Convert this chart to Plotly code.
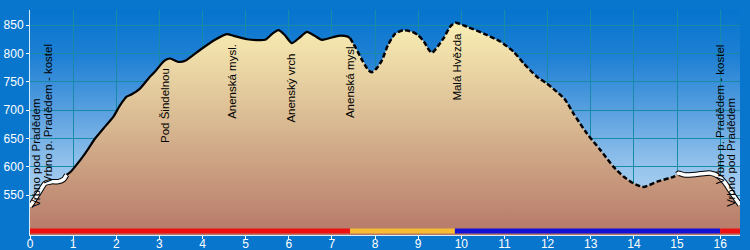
import base64
import struct
import zlib

import numpy as np
import plotly.graph_objects as go

# ---------------- data ----------------
dist_km = [0.00, 0.10, 0.22, 0.35, 0.50, 0.66, 0.78, 0.85, 0.95, 1.04, 1.28, 1.51,
           1.74, 1.93, 2.09, 2.24, 2.36, 2.55, 2.78, 2.90, 3.05, 3.13, 3.25, 3.44,
           3.60, 3.94, 4.29, 4.56, 4.72, 5.03, 5.45, 5.62, 5.76, 5.90, 6.07, 6.25,
           6.42, 6.60, 6.77, 7.15, 7.35, 7.42, 7.55, 7.70, 7.85, 7.93, 8.05, 8.16,
           8.30, 8.47, 8.66, 8.86, 9.00, 9.13, 9.25, 9.32, 9.45, 9.59, 9.75, 9.86,
           10.13, 10.52, 10.90, 11.21, 11.45, 11.75, 11.98, 12.22, 12.41, 12.60,
           12.91, 13.22, 13.53, 13.76, 13.99, 14.19, 14.26, 14.54, 14.93, 15.00,
           15.04, 15.16, 15.47, 15.78, 15.97, 16.10, 16.20, 16.35, 16.46]
elev_m = [530, 542, 556, 571, 574, 574, 578, 586, 592, 600, 624, 650,
          671, 688, 709, 724, 728, 738, 759, 768, 782, 788, 791, 785,
          787, 806, 824, 834, 831, 825, 824, 835, 841, 833, 818, 828,
          838, 831, 824, 831, 830, 827, 810, 788, 770, 767, 775, 788,
          815, 835, 841, 838, 832, 821, 806, 801, 812, 827, 848, 854,
          847, 835, 821, 803, 782, 759, 747, 732, 718, 694,
          659, 630, 600, 583, 571, 565, 565, 574, 583, 587,
          589, 586, 587, 589, 583, 573, 562, 545, 533]

# line-style segments: town (white) | path (solid) | path (dashed) | town (white)
segment_breaks_km = [0.0, 0.85, 7.42, 15.00, 16.46]
segment_kind = ["town", "solid", "dashed", "town"]

# trail marking colour bands along the bottom
marking_km = [0.0, 7.42, 9.85, 16.00, 16.46]
marking_name = ["red", "yellow", "blue", "red"]
marking_level_m = 487

label_text = ["Vrbno pod Pradědem", "Vrbno p. Pradědem - kostel", "Pod Šindelnou",
              "Anenská mysl.", "Anenský vrch", "Anenská mysl.", "Malá Hvězda",
              "Vrbno p. Pradědem - kostel", "Vrbno pod Pradědem"]
label_km = [0.16, 0.43, 3.13, 4.68, 6.06, 7.42, 9.91, 16.00, 16.26]
label_top_m = [725, 820, 777, 821, 803, 821, 841, 820, 725]

x_ticks = list(range(0, 17))
y_ticks = [550, 600, 650, 700, 750, 800, 850]
x_range = [0, 16.46]
y_range = [480, 876.5]

# ---------------- styles ----------------
MARK_COLORS = {"red": "#ee1010", "yellow": "#f8bc34", "blue": "#1212d6"}
PAPER = "#0876cc"
GRID = "#178aa8"
FONT = "Arial, Liberation Sans, sans-serif"


def png_uri(rows):
    raw = b"".join(b"\x00" + bytes(c) * 2 for c in rows)

    def chunk(t, d):
        return struct.pack(">I", len(d)) + t + d + struct.pack(">I", zlib.crc32(t + d) & 0xFFFFFFFF)

    png = (b"\x89PNG\r\n\x1a\n"
           + chunk(b"IHDR", struct.pack(">IIBBBBB", 2, len(rows), 8, 2, 0, 0, 0))
           + chunk(b"IDAT", zlib.compress(raw))
           + chunk(b"IEND", b""))
    return "data:image/png;base64," + base64.b64encode(png).decode()


def grad_rows(stops, n=200):
    pos = np.array([s[0] for s in stops])
    cols = np.array([s[1] for s in stops], dtype=float)
    rows = []
    for i in range(n):
        t = i / (n - 1)
        rows.append(tuple(int(round(np.interp(t, pos, cols[:, k]))) for k in range(3)))
    return rows


bg_stops = [(0.0, (6, 116, 206)), (0.2, (30, 128, 212)), (0.45, (90, 160, 224)),
            (0.7, (150, 196, 236)), (1.0, (196, 224, 246))]

fig = go.Figure()

x = np.array(dist_km)
y = np.array(elev_m)

# terrain fill with vertical gradient
fig.add_trace(go.Scatter(
    x=x, y=y, mode="lines", line=dict(width=0, color="rgba(0,0,0,0)"),
    fill="tozeroy",
    fillgradient=dict(type="vertical", start=y_range[0], stop=max(elev_m),
                      colorscale=[[0, "#b67868"], [0.5, "#d7b690"], [1, "#f9eeb4"]]),
    hoverinfo="skip", showlegend=False))

# profile line segments
for i, kind in enumerate(segment_kind):
    lo, hi = segment_breaks_km[i], segment_breaks_km[i + 1]
    m = (x >= lo - 1e-9) & (x <= hi + 1e-9)
    sx, sy = x[m], y[m]
    if kind == "town":
        fig.add_trace(go.Scatter(x=sx, y=sy, mode="lines",
                                 line=dict(color="black", width=5.5, shape="spline", smoothing=0.6),
                                 hoverinfo="skip", showlegend=False))
        fig.add_trace(go.Scatter(x=sx, y=sy, mode="lines",
                                 line=dict(color="white", width=3.5, shape="spline", smoothing=0.6),
                                 hoverinfo="skip", showlegend=False))
    elif kind == "solid":
        fig.add_trace(go.Scatter(x=sx, y=sy, mode="lines",
                                 line=dict(color="black", width=2.2, shape="spline", smoothing=0.6),
                                 hoverinfo="skip", showlegend=False))
    else:
        fig.add_trace(go.Scatter(x=sx, y=sy, mode="lines",
                                 line=dict(color="black", width=2.5, dash="5px,2.5px",
                                           shape="spline", smoothing=0.6),
                                 hoverinfo="skip", showlegend=False))

# trail marking bands
for i, name in enumerate(marking_name):
    fig.add_trace(go.Scatter(x=[marking_km[i], marking_km[i + 1]],
                             y=[marking_level_m, marking_level_m], mode="lines",
                             line=dict(color=MARK_COLORS[name], width=5),
                             hoverinfo="skip", showlegend=False))

annotations = []
for t, k, top in zip(label_text, label_km, label_top_m):
    annotations.append(dict(x=k, y=top, text=t, textangle=-90, showarrow=False,
                            xanchor="center", yanchor="top",
                            font=dict(family=FONT, size=11.5, color="black")))

fig.update_layout(
    width=750, height=250,
    margin=dict(l=30, r=10, t=10, b=15, autoexpand=False),
    paper_bgcolor=PAPER, plot_bgcolor=PAPER,
    images=[dict(source=png_uri(grad_rows(bg_stops)), xref="paper", yref="paper",
                 x=0, y=1, sizex=1, sizey=1, xanchor="left", yanchor="top",
                 sizing="stretch", layer="below")],
    annotations=annotations,
    xaxis=dict(range=x_range, tickvals=x_ticks, showgrid=True, gridcolor=GRID, gridwidth=1,
               zeroline=False, showline=True, linecolor="#d8ecfa", linewidth=1,
               ticks="outside", ticklen=3, tickcolor="white", automargin=False,
               ticklabelstandoff=-5,
               tickfont=dict(family=FONT, size=12, color="white")),
    yaxis=dict(range=y_range, tickvals=y_ticks, showgrid=True, gridcolor=GRID, gridwidth=1,
               zeroline=False, showline=True, linecolor="#d8ecfa", linewidth=1,
               ticks="outside", ticklen=3, tickcolor="white", ticklabelstandoff=0,
               automargin=False,
               tickfont=dict(family=FONT, size=12, color="white")),
)

fig.write_html("out.html")
